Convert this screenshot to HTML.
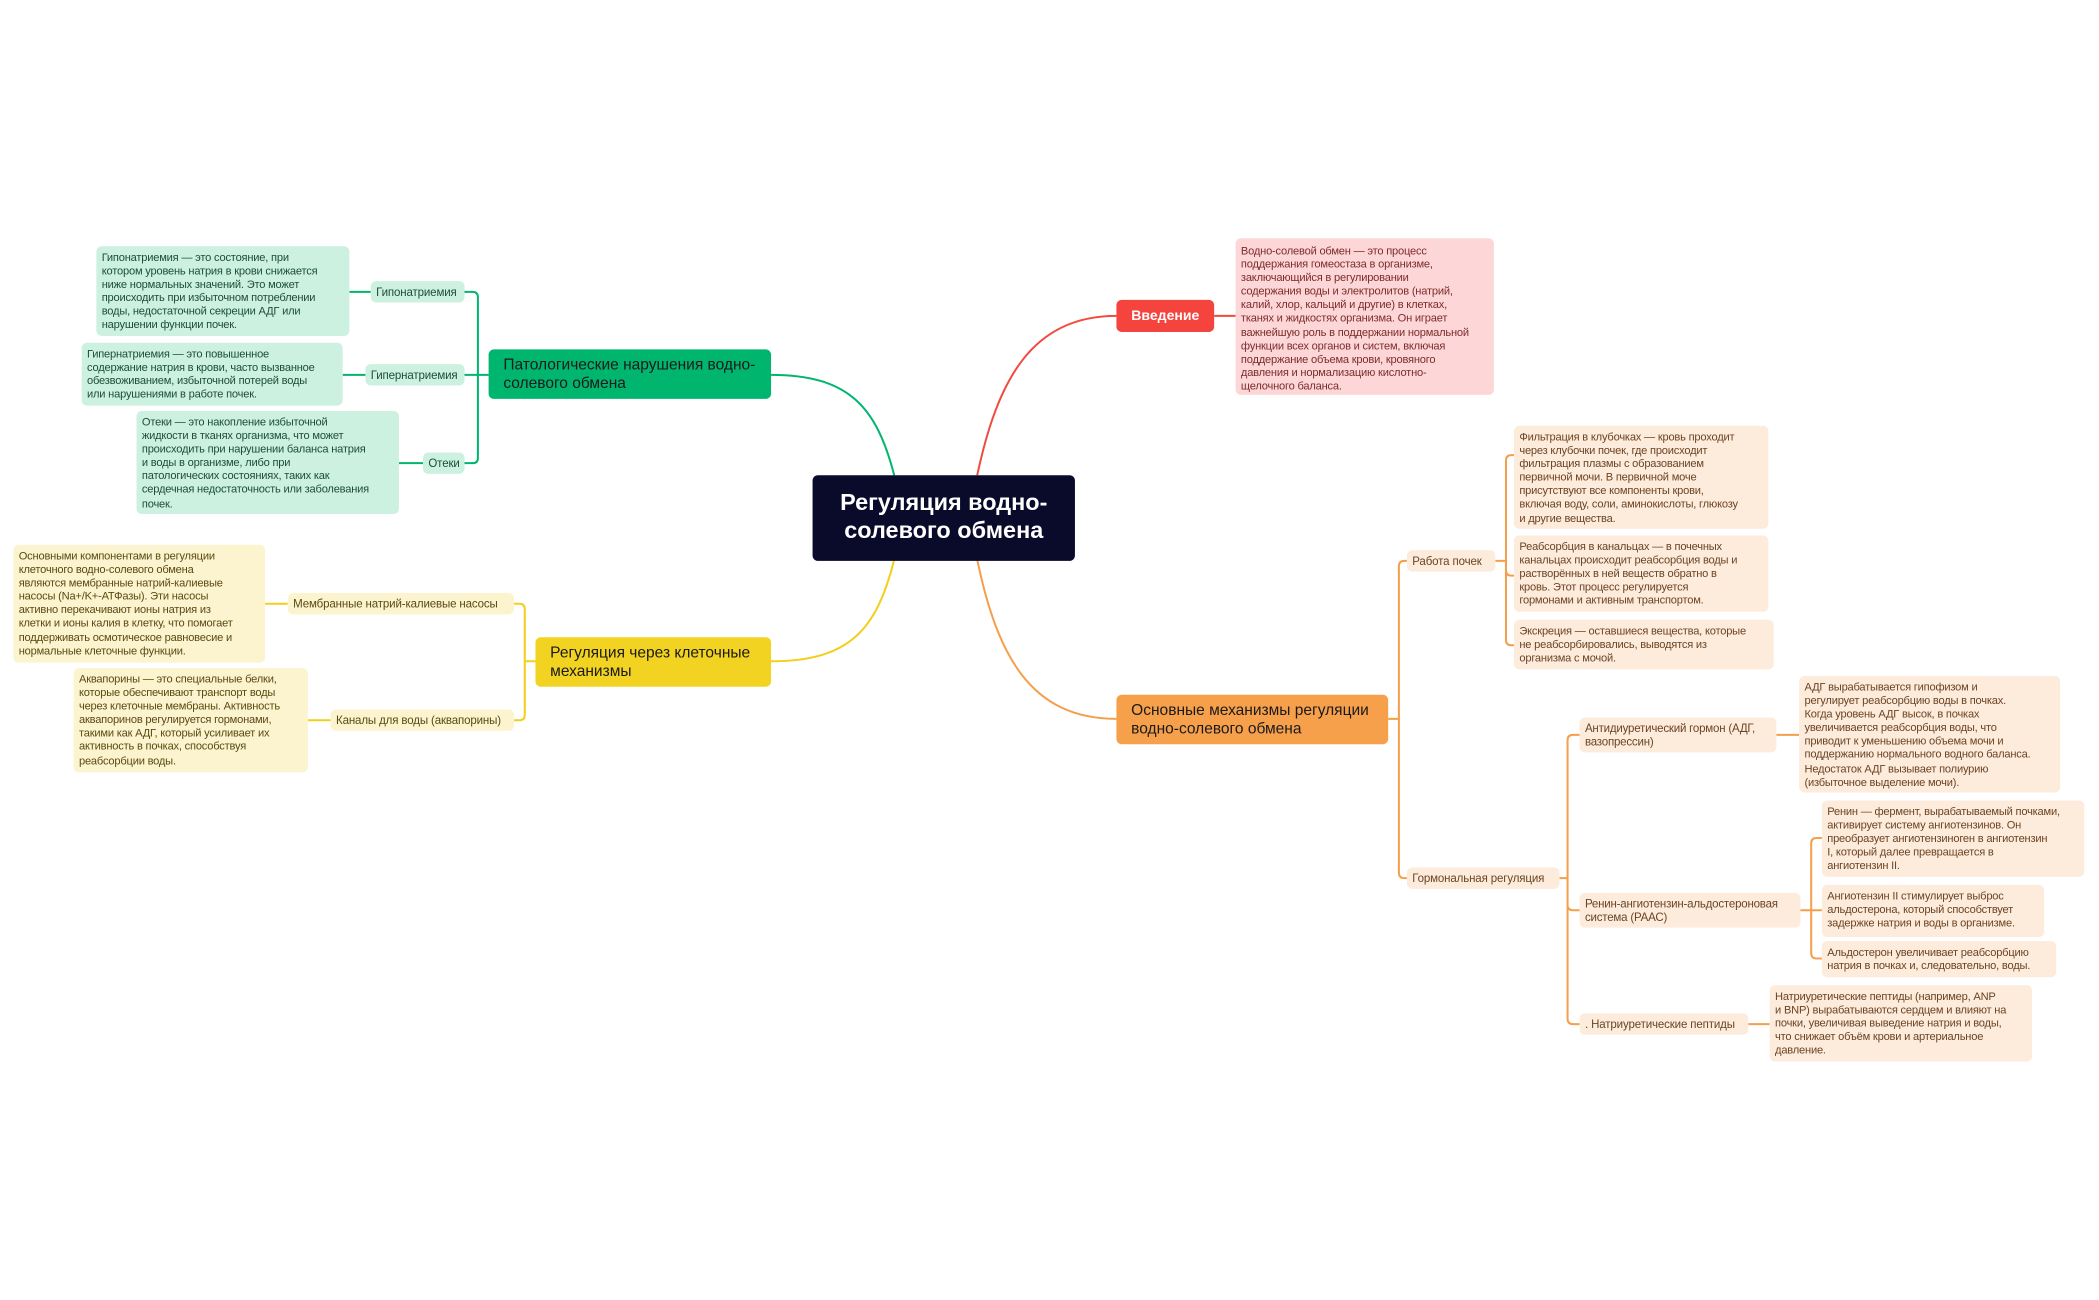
<!DOCTYPE html>
<html><head><meta charset="utf-8">
<style>
html,body{margin:0;padding:0;background:#fff;}
body{width:2099px;height:1300px;overflow:hidden;position:relative;}
#w{position:absolute;left:0;top:0;width:1568px;height:971px;transform:scale(1.33865);transform-origin:0 0;font-family:"Liberation Sans","DejaVu Sans",sans-serif;}
.b{position:absolute;box-sizing:border-box;border-radius:4px;white-space:nowrap;}
.t{font-size:8.3px;line-height:10.1px;padding:3px 4px;letter-spacing:-0.15px;}
.l{font-size:8.6px;line-height:16px;padding:0 4px;letter-spacing:-0.1px;}
.m{font-size:11.6px;line-height:14px;padding:5px 11px;color:#1a1a1a;}
.g{background:#ccf1e1;color:#1d4d37;}
.y{background:#fcf4cf;color:#5a4a12;}
.o{background:#fdebdc;color:#6b4423;}
.r{background:#fdd7d7;color:#7d2b2b;}
svg{position:absolute;left:0;top:0;}
</style></head><body><div id="w">
<svg width="1568" height="971" fill="none" stroke-width="1.5">
<g stroke="#00b56e">
<path d="M668,355 C655,305 635,280 576,280"/>
<path d="M365,280 H347 M357,280 V222 Q357,218 353,218 H347 M357,280 V342 Q357,346 353,346 H347"/>
<path d="M277,218 H261 M273,280 H256 M316,346 H298"/>
</g>
<g stroke="#f2cf1c">
<path d="M668,418 C655,470 635,494 576,494"/>
<path d="M400,494 H392 M392,494 V455 Q392,451 388,451 H384 M392,494 V534 Q392,538 388,538 H384"/>
<path d="M215,451 H198 M247,538 H230"/>
</g>
<g stroke="#f14a3f">
<path d="M730,355 C745,285 770,236 834,236"/>
<path d="M907,236 H923"/>
</g>
<g stroke="#f59e4c">
<path d="M730,418 C745,490 770,537 834,537"/>
<path d="M1037,537 H1045 M1045,537 V423 Q1045,419 1049,419 H1051 M1045,537 V652 Q1045,656 1049,656 H1051"/>
<path d="M1117,419 H1125 M1125,419 V344 Q1125,340 1129,340 H1131 M1125,419 V426 Q1125,430 1129,430 H1131 M1125,419 V478 Q1125,482 1129,482 H1131"/>
<path d="M1165,656 H1171 M1171,656 V553 Q1171,549 1175,549 H1180 M1171,656 V676 Q1171,680 1175,680 H1180 M1171,656 V761 Q1171,765 1175,765 H1180"/>
<path d="M1327,549 H1344 M1306,765 H1322"/>
<path d="M1345,680 H1361 M1353,680 V630 Q1353,626 1357,626 H1361 M1353,680 V712 Q1353,716 1357,716 H1361"/>
</g>
</svg>

<div class="b" style="left:607px;top:355px;width:196px;height:64px;background:#0a0a2b;color:#fff;font-size:17.5px;line-height:21px;font-weight:bold;text-align:center;padding-top:10px;">Регуляция водно-<br>солевого обмена</div>

<div class="b" style="left:834px;top:224px;width:73px;height:24px;background:#f5433d;color:#fff;font-size:10.5px;font-weight:bold;line-height:24px;text-align:center;">Введение</div>
<div class="b t r" style="left:923px;top:178px;width:193px;height:117px;padding-top:4px;">Водно-солевой обмен — это процесс<br>поддержания гомеостаза в организме,<br>заключающийся в регулировании<br>содержания воды и электролитов (натрий,<br>калий, хлор, кальций и другие) в клетках,<br>тканях и жидкостях организма. Он играет<br>важнейшую роль в поддержании нормальной<br>функции всех органов и систем, включая<br>поддержание объема крови, кровяного<br>давления и нормализацию кислотно-<br>щелочного баланса.</div>

<div class="b m" style="left:365px;top:261px;width:211px;height:37px;background:#00b56e;">Патологические нарушения водно-<br>солевого обмена</div>
<div class="b l g" style="left:277px;top:210px;width:70px;">Гипонатриемия</div>
<div class="b l g" style="left:273px;top:272px;width:74px;">Гипернатриемия</div>
<div class="b l g" style="left:316px;top:338px;width:31px;">Отеки</div>
<div class="b t g" style="left:72px;top:184px;width:189px;height:67px;">Гипонатриемия — это состояние, при<br>котором уровень натрия в крови снижается<br>ниже нормальных значений. Это может<br>происходить при избыточном потреблении<br>воды, недостаточной секреции АДГ или<br>нарушении функции почек.</div>
<div class="b t g" style="left:61px;top:256px;width:195px;height:47px;">Гипернатриемия — это повышенное<br>содержание натрия в крови, часто вызванное<br>обезвоживанием, избыточной потерей воды<br>или нарушениями в работе почек.</div>
<div class="b t g" style="left:102px;top:307px;width:196px;height:77px;">Отеки — это накопление избыточной<br>жидкости в тканях организма, что может<br>происходить при нарушении баланса натрия<br>и воды в организме, либо при<br>патологических состояниях, таких как<br>сердечная недостаточность или заболевания<br>почек.</div>

<div class="b m" style="left:400px;top:476px;width:176px;height:37px;background:#f2d321;">Регуляция через клеточные<br>механизмы</div>
<div class="b l y" style="left:215px;top:443px;width:169px;">Мембранные натрий-калиевые насосы</div>
<div class="b l y" style="left:247px;top:530px;width:137px;">Каналы для воды (аквапорины)</div>
<div class="b t y" style="left:10px;top:407px;width:188px;height:88px;">Основными компонентами в регуляции<br>клеточного водно-солевого обмена<br>являются мембранные натрий-калиевые<br>насосы (Na+/K+-АТФазы). Эти насосы<br>активно перекачивают ионы натрия из<br>клетки и ионы калия в клетку, что помогает<br>поддерживать осмотическое равновесие и<br>нормальные клеточные функции.</div>
<div class="b t y" style="left:55px;top:499px;width:175px;height:78px;">Аквапорины — это специальные белки,<br>которые обеспечивают транспорт воды<br>через клеточные мембраны. Активность<br>аквапоринов регулируется гормонами,<br>такими как АДГ, который усиливает их<br>активность в почках, способствуя<br>реабсорбции воды.</div>

<div class="b m" style="left:834px;top:519px;width:203px;height:37px;background:#f7a04c;">Основные механизмы регуляции<br>водно-солевого обмена</div>
<div class="b l o" style="left:1051px;top:411px;width:66px;">Работа почек</div>
<div class="b l o" style="left:1051px;top:648px;width:114px;">Гормональная регуляция</div>
<div class="b t o" style="left:1131px;top:318px;width:190px;height:77px;">Фильтрация в клубочках — кровь проходит<br>через клубочки почек, где происходит<br>фильтрация плазмы с образованием<br>первичной мочи. В первичной моче<br>присутствуют все компоненты крови,<br>включая воду, соли, аминокислоты, глюкозу<br>и другие вещества.</div>
<div class="b t o" style="left:1131px;top:400px;width:190px;height:57px;">Реабсорбция в канальцах — в почечных<br>канальцах происходит реабсорбция воды и<br>растворённых в ней веществ обратно в<br>кровь. Этот процесс регулируется<br>гормонами и активным транспортом.</div>
<div class="b t o" style="left:1131px;top:463px;width:194px;height:37px;">Экскреция — оставшиеся вещества, которые<br>не реабсорбировались, выводятся из<br>организма с мочой.</div>
<div class="b t o" style="left:1180px;top:536px;width:147px;height:26px;font-size:8.6px;">Антидиуретический гормон (АДГ,<br>вазопрессин)</div>
<div class="b t o" style="left:1180px;top:667px;width:165px;height:26px;font-size:8.6px;">Ренин-ангиотензин-альдостероновая<br>система (РААС)</div>
<div class="b l o" style="left:1180px;top:757px;width:126px;">. Натриуретические пептиды</div>
<div class="b t o" style="left:1344px;top:505px;width:195px;height:87px;">АДГ вырабатывается гипофизом и<br>регулирует реабсорбцию воды в почках.<br>Когда уровень АДГ высок, в почках<br>увеличивается реабсорбция воды, что<br>приводит к уменьшению объема мочи и<br>поддержанию нормального водного баланса.<br>Недостаток АДГ вызывает полиурию<br>(избыточное выделение мочи).</div>
<div class="b t o" style="left:1361px;top:598px;width:196px;height:57px;">Ренин — фермент, вырабатываемый почками,<br>активирует систему ангиотензинов. Он<br>преобразует ангиотензиноген в ангиотензин<br>I, который далее превращается в<br>ангиотензин II.</div>
<div class="b t o" style="left:1361px;top:661px;width:166px;height:39px;">Ангиотензин II стимулирует выброс<br>альдостерона, который способствует<br>задержке натрия и воды в организме.</div>
<div class="b t o" style="left:1361px;top:703px;width:175px;height:27px;">Альдостерон увеличивает реабсорбцию<br>натрия в почках и, следовательно, воды.</div>
<div class="b t o" style="left:1322px;top:736px;width:196px;height:57px;">Натриуретические пептиды (например, ANP<br>и BNP) вырабатываются сердцем и влияют на<br>почки, увеличивая выведение натрия и воды,<br>что снижает объём крови и артериальное<br>давление.</div>
</div></body></html>
